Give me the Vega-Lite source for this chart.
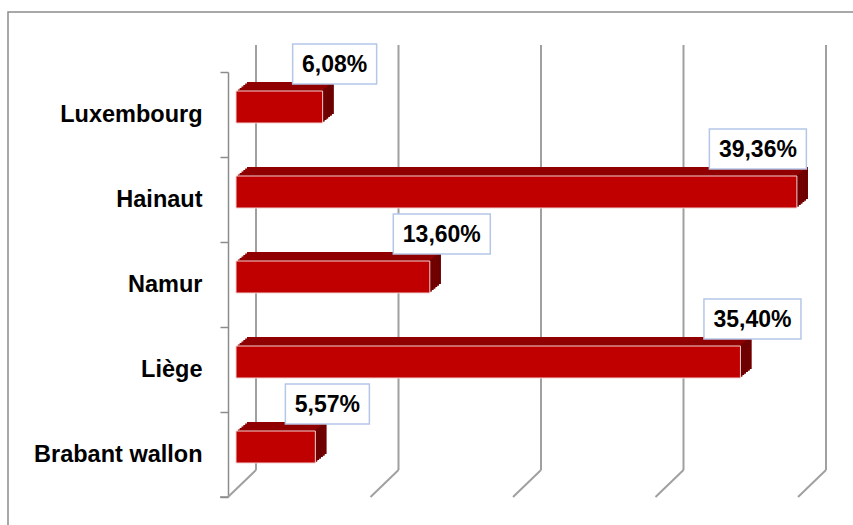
{
  "$schema": "https://vega.github.io/schema/vega-lite/v6.json",
  "width": 570,
  "height": 425,
  "autosize": "none",
  "padding": {"left": 228, "top": 72, "right": 55, "bottom": 28},
  "background": "white",
  "config": {"view": {"stroke": null}},
  "datasets": {
    "regions": [
      {"region": "Luxembourg", "value": 6.08, "label": "6,08%"},
      {"region": "Hainaut", "value": 39.36, "label": "39,36%"},
      {"region": "Namur", "value": 13.60, "label": "13,60%"},
      {"region": "Liège", "value": 35.40, "label": "35,40%"},
      {"region": "Brabant wallon", "value": 5.57, "label": "5,57%"}
    ],
    "grid": [{"tick": 0}, {"tick": 10}, {"tick": 20}, {"tick": 30}, {"tick": 40}],
    "one": [{}]
  },
  "layer": [
    {
      "data": {"name": "one"},
      "mark": {"type": "rect", "fill": null, "stroke": "#8c8c8c", "strokeWidth": 1.5, "xOffset": -220, "x2Offset": 60, "yOffset": -60, "y2Offset": 60},
      "encoding": {"x": {"value": 0}, "x2": {"value": "width"}, "y": {"value": 0}, "y2": {"value": "height"}}
    },
    {
      "data": {"name": "grid"},
      "mark": {"type": "rule", "color": "#a0a0a0", "strokeWidth": 2, "xOffset": 28, "yOffset": -27, "y2Offset": -27},
      "encoding": {
        "x": {"field": "tick", "type": "quantitative", "scale": {"domain": [0, 40], "nice": false}, "axis": null},
        "y": {"value": 0},
        "y2": {"value": "height"}
      }
    },
    {
      "data": {"name": "grid"},
      "mark": {"type": "rule", "color": "#a0a0a0", "strokeWidth": 2, "x2Offset": 28, "y2Offset": -27},
      "encoding": {
        "x": {"field": "tick", "type": "quantitative", "scale": {"domain": [0, 40], "nice": false}, "axis": null},
        "x2": {"field": "tick"},
        "y": {"value": "height"},
        "y2": {"value": "height"}
      }
    },
    {
      "data": {"name": "one"},
      "mark": {"type": "rule", "color": "#8c8c8c", "strokeWidth": 1.5, "xOffset": -8},
      "encoding": {
        "x": {"datum": 0, "type": "quantitative", "scale": {"domain": [0, 40], "nice": false}, "axis": null},
        "x2": {"datum": 0},
        "y": {"value": "height"},
        "y2": {"value": "height"}
      }
    },
    {
      "data": {"name": "regions"},
      "encoding": {
        "y": {
          "field": "region",
          "type": "nominal",
          "sort": ["Luxembourg", "Hainaut", "Namur", "Liège", "Brabant wallon"],
          "scale": {"paddingInner": 0, "paddingOuter": 0},
          "axis": {
            "title": null,
            "domainColor": "#8c8c8c",
            "domainWidth": 1.5,
            "tickColor": "#8c8c8c",
            "tickWidth": 1.5,
            "tickSize": 8,
            "tickBand": "extent",
            "labelPadding": 18,
            "labelFont": "Liberation Sans",
            "labelFontWeight": "bold",
            "labelFontSize": 23.5,
            "labelColor": "#000000",
            "labelLimit": 300
          }
        },
        "x": {"field": "value", "type": "quantitative", "scale": {"domain": [0, 40], "nice": false}, "axis": null}
      },
      "layer": [
        {"mark": {"type": "bar", "height": 32, "color": "#900000", "xOffset": 19, "x2Offset": 19, "yOffset": -16.5, "y2Offset": -16.5}, "encoding": {"x2": {"datum": 0}}},
        {"mark": {"type": "bar", "height": 32, "color": "#6a0000", "xOffset": 17.17, "x2Offset": 19, "yOffset": -16.5, "y2Offset": -16.5}, "encoding": {"x2": {"field": "value"}}},
        {"mark": {"type": "bar", "height": 32, "color": "#900000", "xOffset": 17.17, "x2Offset": 17.17, "yOffset": -15, "y2Offset": -15}, "encoding": {"x2": {"datum": 0}}},
        {"mark": {"type": "bar", "height": 32, "color": "#6a0000", "xOffset": 15.33, "x2Offset": 17.17, "yOffset": -15, "y2Offset": -15}, "encoding": {"x2": {"field": "value"}}},
        {"mark": {"type": "bar", "height": 32, "color": "#900000", "xOffset": 15.33, "x2Offset": 15.33, "yOffset": -13.5, "y2Offset": -13.5}, "encoding": {"x2": {"datum": 0}}},
        {"mark": {"type": "bar", "height": 32, "color": "#6a0000", "xOffset": 13.5, "x2Offset": 15.33, "yOffset": -13.5, "y2Offset": -13.5}, "encoding": {"x2": {"field": "value"}}},
        {"mark": {"type": "bar", "height": 32, "color": "#900000", "xOffset": 13.5, "x2Offset": 13.5, "yOffset": -12, "y2Offset": -12}, "encoding": {"x2": {"datum": 0}}},
        {"mark": {"type": "bar", "height": 32, "color": "#6a0000", "xOffset": 11.67, "x2Offset": 13.5, "yOffset": -12, "y2Offset": -12}, "encoding": {"x2": {"field": "value"}}},
        {"mark": {"type": "bar", "height": 32, "color": "#900000", "xOffset": 11.67, "x2Offset": 11.67, "yOffset": -10.5, "y2Offset": -10.5}, "encoding": {"x2": {"datum": 0}}},
        {"mark": {"type": "bar", "height": 32, "color": "#6a0000", "xOffset": 9.83, "x2Offset": 11.67, "yOffset": -10.5, "y2Offset": -10.5}, "encoding": {"x2": {"field": "value"}}},
        {"mark": {"type": "bar", "height": 32, "color": "#900000", "xOffset": 9.83, "x2Offset": 9.83, "yOffset": -9, "y2Offset": -9}, "encoding": {"x2": {"datum": 0}}},
        {"mark": {"type": "bar", "height": 32, "color": "#6a0000", "xOffset": 8, "x2Offset": 9.83, "yOffset": -9, "y2Offset": -9}, "encoding": {"x2": {"field": "value"}}},
        {"mark": {"type": "bar", "height": 32, "color": "#c00000", "stroke": "#f3d0d0", "strokeWidth": 1, "xOffset": 8, "x2Offset": 8, "yOffset": -7.5, "y2Offset": -7.5}, "encoding": {"x2": {"datum": 0}}},
        {
          "mark": {
            "type": "bar",
            "height": 40,
            "fill": "#ffffff",
            "stroke": "#b4c7e7",
            "strokeWidth": 1.5,
            "yOffset": -50.5,
            "y2Offset": -50.5,
            "xOffset": {"expr": "(datum.value > 38 ? -31 : 20) - (length(datum.label) > 5 ? 48.5 : 42)"},
            "x2Offset": {"expr": "(datum.value > 38 ? -31 : 20) + (length(datum.label) > 5 ? 48.5 : 42)"}
          },
          "encoding": {"x2": {"field": "value"}}
        },
        {
          "mark": {
            "type": "text",
            "font": "Liberation Sans",
            "fontWeight": "bold",
            "fontSize": 23,
            "color": "#000000",
            "align": "center",
            "baseline": "middle",
            "dy": -50,
            "dx": {"expr": "datum.value > 38 ? -31 : 20"}
          },
          "encoding": {"text": {"field": "label"}}
        }
      ]
    }
  ]
}
